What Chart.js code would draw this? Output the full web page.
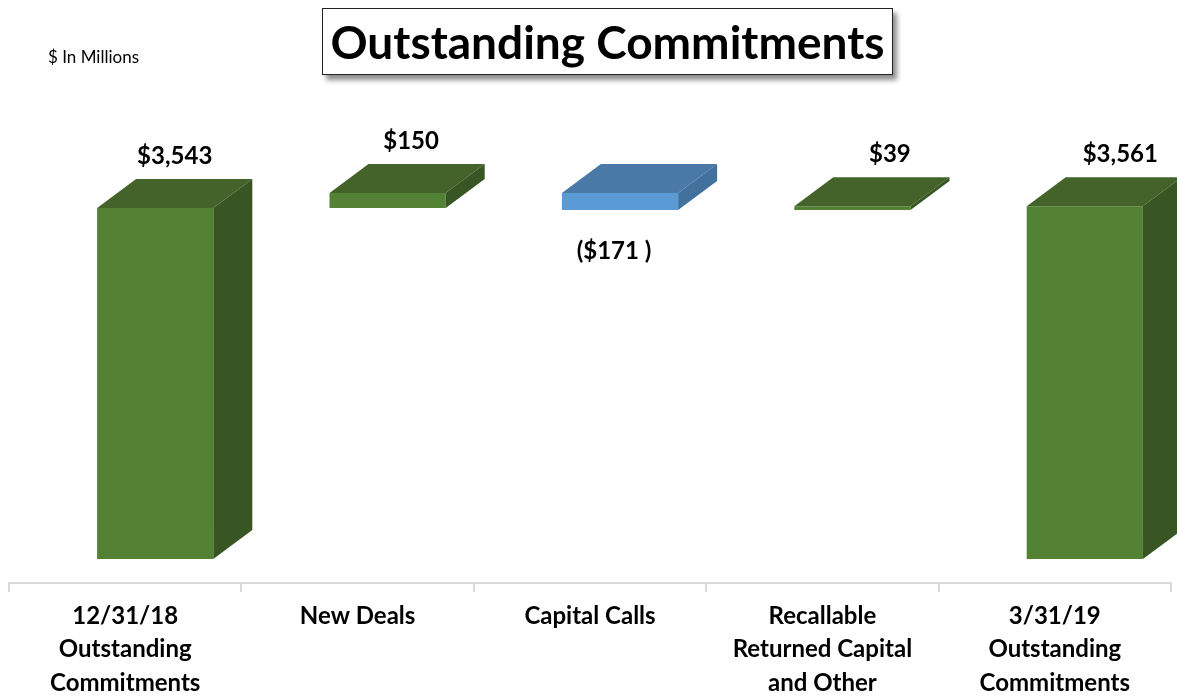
<!DOCTYPE html>
<html>
<head>
<meta charset="utf-8">
<script src="https://cdn.jsdelivr.net/npm/chart.js@4"></script>
<style>
    html, body { margin: 0; padding: 0; background: #fff; }
    #wrap { position: relative; width: 1177px; height: 698px; overflow: hidden; }
    #units { position: absolute; left: 48px; top: 46px; font: 17px Lato, sans-serif; color: #000; }
    #title {
        position: absolute; left: 322px; top: 8px; width: 569px; height: 65px;
        border: 1.5px solid #222; box-shadow: 4px 5px 5px rgba(0,0,0,0.45);
        font: bold 46px Lato, sans-serif; color: #000; text-align: center; line-height: 66px;
        background: #fff;
    }
</style>
</head>
<body>
<div id="wrap">
    <canvas id="waterfall" width="1177" height="698"></canvas>
    <div id="units">$ In Millions</div>
    <div id="title">Outstanding Commitments</div>
</div>
<script>
// categories on the x axis (multi-line labels)
const categories = [
    ['12/31/18', 'Outstanding', 'Commitments'],
    ['New Deals'],
    ['Capital Calls'],
    ['Recallable', 'Returned Capital', 'and Other'],
    ['3/31/19', 'Outstanding', 'Commitments']
];
// values in $ millions; first and last are totals, the rest are changes
const values = [3543, 150, -171, 39, 3561];
const isTotal = [true, false, false, false, true];
const valueLabels = ['$3,543', '$150', '($171 )', '$39', '$3,561'];

// build floating [start, end] ranges for the waterfall
const ranges = [];
let running = 0;
values.forEach(function(v, i) {
    if (isTotal[i]) {
        ranges.push([0, v]);
        running = v;
    } else {
        ranges.push([running, running + v]);
        running += v;
    }
});

const GREEN = { front: '#548235', top: '#43632b', side: '#375623' };
const BLUE = { front: '#5b9bd5', top: '#4a79a8', side: '#41719c' };
const faceColors = values.map(function(v) { return v < 0 ? BLUE : GREEN; });

const SHIFT_X = 30;   // front face sits right of the category centre
const DEPTH_X = 39;   // 3d depth offsets
const DEPTH_Y = 29;
const labelNudgeX = [0, 4, 0, 18, 16]; // hand-placed labels in the original

const bar3d = {
    id: 'bar3d',
    beforeDatasetsDraw: function(chart) {
        chart.ctx.save();
        chart.ctx.translate(SHIFT_X, 0);
    },
    afterDatasetsDraw: function(chart) {
        const ctx = chart.ctx;
        const meta = chart.getDatasetMeta(0);
        meta.data.forEach(function(bar, i) {
            const p = bar.getProps(['x', 'y', 'base', 'width'], true);
            const left = p.x - p.width / 2;
            const right = p.x + p.width / 2;
            const top = Math.min(p.y, p.base);
            const bottom = Math.max(p.y, p.base);
            const c = faceColors[i];

            // top face
            ctx.fillStyle = c.top;
            ctx.beginPath();
            ctx.moveTo(left, top);
            ctx.lineTo(left + DEPTH_X, top - DEPTH_Y);
            ctx.lineTo(right + DEPTH_X, top - DEPTH_Y);
            ctx.lineTo(right, top);
            ctx.closePath();
            ctx.fill();

            // side face
            ctx.fillStyle = c.side;
            ctx.beginPath();
            ctx.moveTo(right, top);
            ctx.lineTo(right + DEPTH_X, top - DEPTH_Y);
            ctx.lineTo(right + DEPTH_X, bottom - DEPTH_Y);
            ctx.lineTo(right, bottom);
            ctx.closePath();
            ctx.fill();

            // value label
            ctx.fillStyle = '#000';
            ctx.font = 'bold 24px Lato, sans-serif';
            ctx.textAlign = 'center';
            ctx.textBaseline = 'middle';
            if (values[i] < 0) {
                ctx.fillText(valueLabels[i], p.x - 6 + labelNudgeX[i], bottom + 41);
            } else {
                ctx.fillText(valueLabels[i], p.x + DEPTH_X / 2 + labelNudgeX[i], top - DEPTH_Y - 23);
            }
        });
        ctx.restore();
    }
};

new Chart(document.getElementById('waterfall'), {
    type: 'bar',
    data: {
        labels: categories,
        datasets: [{
            data: ranges,
            backgroundColor: faceColors.map(function(c) { return c.front; }),
            borderWidth: 0,
            borderSkipped: false,
            categoryPercentage: 1,
            barPercentage: 0.5,
            clip: false
        }]
    },
    options: {
        responsive: false,
        animation: false,
        layout: { padding: { top: 123, left: 9, right: 6, bottom: 0 } },
        plugins: {
            legend: { display: false },
            tooltip: { enabled: false }
        },
        scales: {
            x: {
                border: { color: '#d9d9d9', width: 2 },
                grid: { drawOnChartArea: false, drawTicks: true, tickLength: 9, color: '#d9d9d9', lineWidth: 2 },
                ticks: {
                    color: '#000',
                    font: { family: 'Lato, sans-serif', size: 24, weight: 'bold', lineHeight: 1.38 },
                    padding: 8,
                    maxRotation: 0,
                    autoSkip: false
                },
                afterFit: function(axis) { axis.height = 115; }
            },
            y: {
                display: false,
                min: -242,
                max: 4400
            }
        }
    },
    plugins: [bar3d]
});
</script>
</body>
</html>
